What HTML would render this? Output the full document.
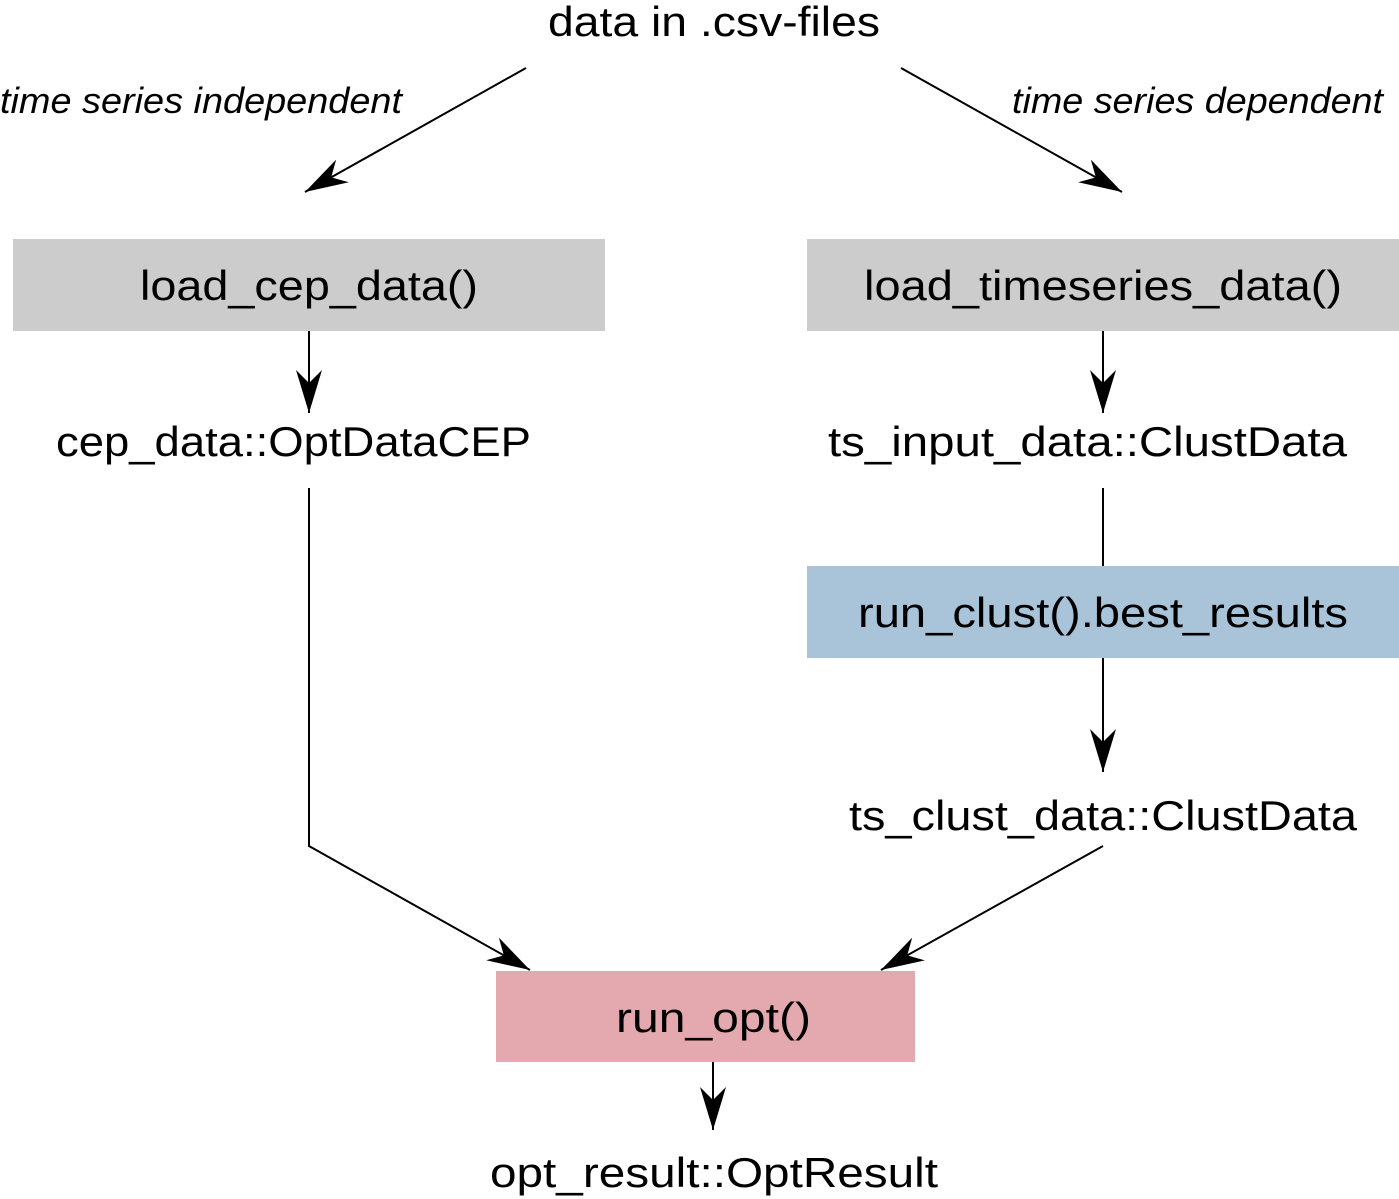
<!DOCTYPE html>
<html><head><meta charset="utf-8"><style>html,body{margin:0;padding:0;background:#fff}svg{display:block}</style></head>
<body>
<svg width="1399" height="1199" viewBox="0 0 1399 1199" xmlns="http://www.w3.org/2000/svg">
<defs>
<marker id="a" markerUnits="userSpaceOnUse" markerWidth="50" markerHeight="30" viewBox="-45 -15 50 30" refX="0" refY="0" orient="auto">
<path d="M0,0 L-43,-13 L-30,0 L-43,13 Z" fill="#000"/>
</marker>
</defs>
<g font-family="Liberation Sans, DejaVu Sans, sans-serif" fill="#000">
<rect x="13" y="239" width="592" height="92" fill="#cccccc"/>
<rect x="807" y="239" width="592" height="92" fill="#cccccc"/>
<rect x="807" y="566" width="592" height="92" fill="#a9c4d9"/>
<rect x="496" y="971" width="419" height="91" fill="#e4a9ae"/>
<g stroke="#000" stroke-width="2" fill="none">
<line x1="526" y1="68" x2="305" y2="192" marker-end="url(#a)"/>
<line x1="901" y1="68" x2="1122" y2="192" marker-end="url(#a)"/>
<line x1="309" y1="331" x2="309" y2="413" marker-end="url(#a)"/>
<line x1="1103" y1="331" x2="1103" y2="413" marker-end="url(#a)"/>
<polyline points="309,488 309,846 530,970" marker-end="url(#a)"/>
<line x1="1103" y1="488" x2="1103" y2="566"/>
<line x1="1103" y1="658" x2="1103" y2="772" marker-end="url(#a)"/>
<line x1="1103" y1="846" x2="881" y2="970" marker-end="url(#a)"/>
<line x1="713" y1="1062" x2="713" y2="1130" marker-end="url(#a)"/>
</g>
<g font-size="42">
<text x="548" y="36" textLength="332" lengthAdjust="spacingAndGlyphs">data in .csv-files</text>
<text x="140" y="300" textLength="338" lengthAdjust="spacingAndGlyphs">load_cep_data()</text>
<text x="864" y="300" textLength="478" lengthAdjust="spacingAndGlyphs">load_timeseries_data()</text>
<text x="56" y="456" textLength="475" lengthAdjust="spacingAndGlyphs">cep_data::OptDataCEP</text>
<text x="828" y="456" textLength="519" lengthAdjust="spacingAndGlyphs">ts_input_data::ClustData</text>
<text x="858" y="627" textLength="490" lengthAdjust="spacingAndGlyphs">run_clust().best_results</text>
<text x="849" y="830" textLength="508" lengthAdjust="spacingAndGlyphs">ts_clust_data::ClustData</text>
<text x="616" y="1032" textLength="195" lengthAdjust="spacingAndGlyphs">run_opt()</text>
<text x="490" y="1187" textLength="448" lengthAdjust="spacingAndGlyphs">opt_result::OptResult</text>
</g>
<g font-size="36" font-style="italic">
<text x="0" y="113" textLength="402" lengthAdjust="spacingAndGlyphs">time series independent</text>
<text x="1012" y="113" textLength="371" lengthAdjust="spacingAndGlyphs">time series dependent</text>
</g>
</g>
</svg>
</body></html>
